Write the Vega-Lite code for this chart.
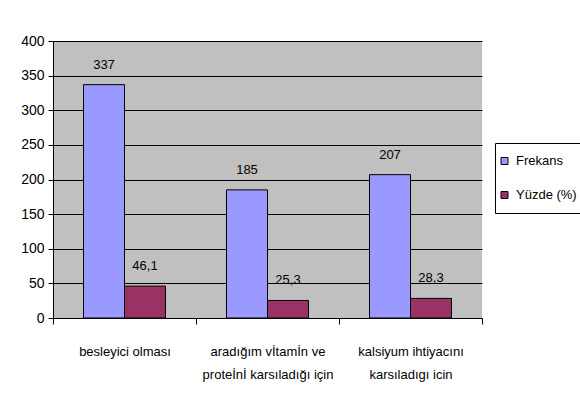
{
  "$schema": "https://vega.github.io/schema/vega-lite/v6.json",
  "width": 429,
  "height": 277,
  "autosize": {"type": "none"},
  "padding": {"left": 53, "top": 41, "right": 98, "bottom": 97},
  "background": "white",
  "config": {
    "font": "Liberation Sans",
    "locale": {
      "number": {"decimal": ",", "thousands": ".", "grouping": [3], "currency": ["", " TL"]}
    },
    "view": {"fill": "#c0c0c0", "stroke": null},
    "axis": {
      "labelColor": "black",
      "domainColor": "black",
      "tickColor": "black",
      "domainWidth": 1,
      "tickWidth": 1,
      "title": null
    }
  },
  "data": {
    "values": [
      {"neden": "besleyici olması", "seri": "Frekans", "deger": 337},
      {"neden": "besleyici olması", "seri": "Yüzde (%)", "deger": 46.1},
      {"neden": "aradığım vİtamİn ve\nproteİnİ karsıladığı için", "seri": "Frekans", "deger": 185},
      {"neden": "aradığım vİtamİn ve\nproteİnİ karsıladığı için", "seri": "Yüzde (%)", "deger": 25.3},
      {"neden": "kalsiyum ihtiyacını\nkarsıladıgı icin", "seri": "Frekans", "deger": 207},
      {"neden": "kalsiyum ihtiyacını\nkarsıladıgı icin", "seri": "Yüzde (%)", "deger": 28.3}
    ]
  },
  "encoding": {
    "x": {
      "field": "neden",
      "type": "nominal",
      "sort": null,
      "scale": {"paddingInner": 0, "paddingOuter": 0},
      "axis": {
        "labelAngle": 0,
        "tickBand": "extent",
        "tickSize": 6,
        "labelPadding": 21,
        "labelFontSize": 13,
        "labelLineHeight": 23,
        "labelLimit": 0,
        "labelExpr": "split(datum.label, '\\n')",
        "grid": false
      }
    },
    "xOffset": {
      "field": "seri",
      "type": "nominal",
      "scale": {"paddingInner": 0, "paddingOuter": 0.744}
    },
    "y": {
      "field": "deger",
      "type": "quantitative",
      "scale": {"domain": [0, 400], "nice": false},
      "axis": {
        "values": [0, 50, 100, 150, 200, 250, 300, 350, 400],
        "grid": true,
        "gridColor": "black",
        "gridOpacity": 1,
        "gridWidth": 1,
        "tickSize": 5,
        "labelPadding": 4,
        "labelFontSize": 14
      }
    }
  },
  "layer": [
    {
      "mark": {"type": "bar", "stroke": "black", "strokeWidth": 1},
      "encoding": {
        "color": {
          "field": "seri",
          "type": "nominal",
          "scale": {"domain": ["Frekans", "Yüzde (%)"], "range": ["#9999ff", "#993366"]},
          "legend": {
            "orient": "none",
            "legendX": 442,
            "legendY": 102,
            "title": null,
            "strokeColor": "black",
            "fillColor": "white",
            "padding": 3,
            "clipHeight": 30,
            "rowPadding": 4,
            "symbolType": "square",
            "symbolSize": 49,
            "symbolStrokeColor": "black",
            "symbolStrokeWidth": 1,
            "symbolOpacity": 1,
            "labelFontSize": 13,
            "labelColor": "black",
            "labelOffset": 5
          }
        }
      }
    },
    {
      "mark": {"type": "text", "baseline": "alphabetic", "dy": -16, "fontSize": 13, "color": "black"},
      "encoding": {
        "text": {"field": "deger", "type": "quantitative", "format": "~r"}
      }
    }
  ]
}
